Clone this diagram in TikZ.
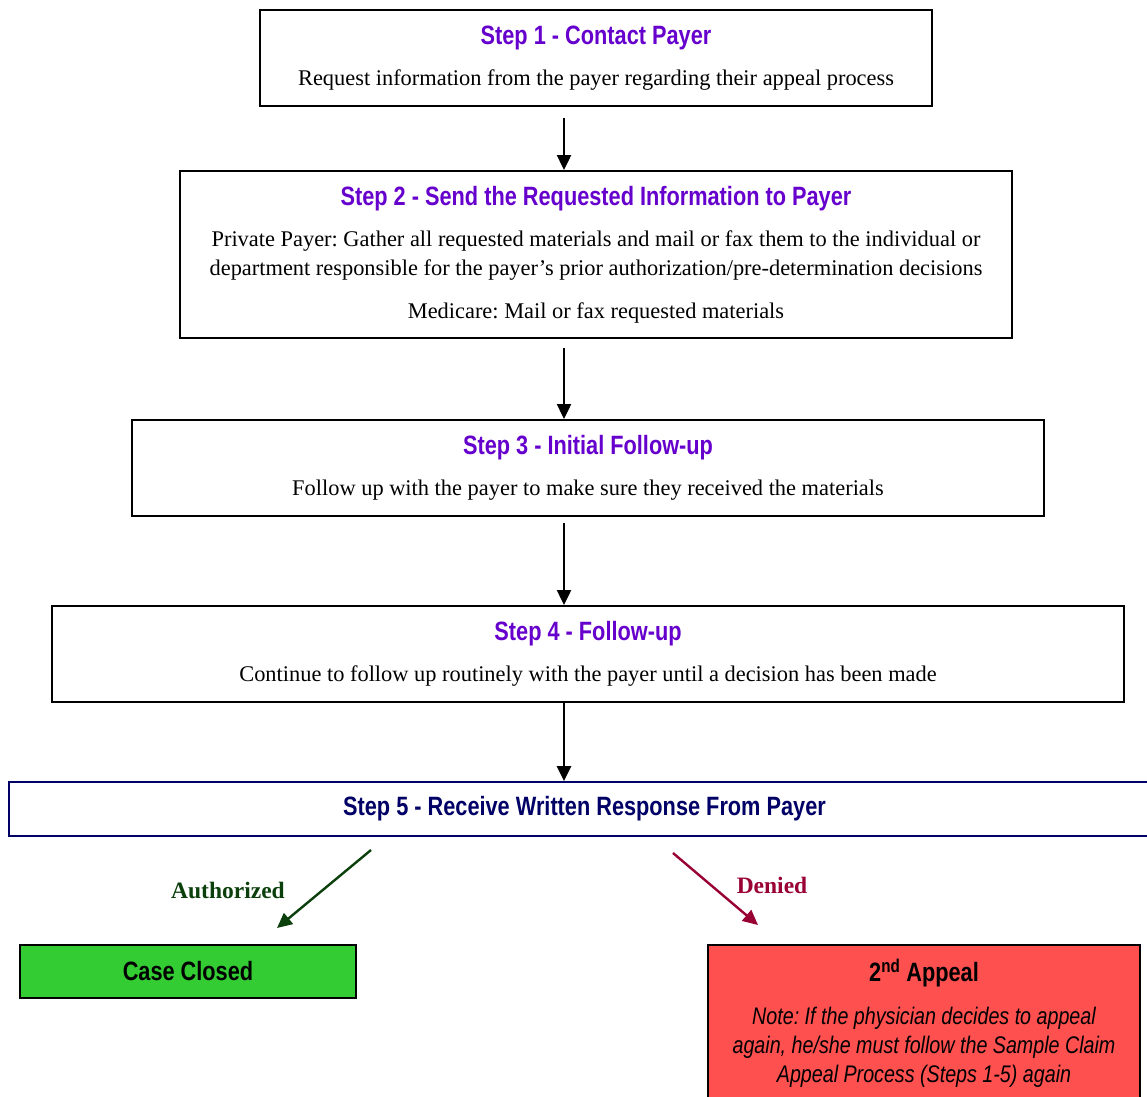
\documentclass[tikz,border=0pt]{standalone}
\usepackage{fontspec}
\setmainfont{Liberation Serif}
\newfontfamily\narrowfont[FakeStretch=0.82]{Liberation Sans}
\usepackage{xcolor}
\usetikzlibrary{arrows.meta}

\definecolor{steppurple}{HTML}{6600CC}
\definecolor{stepnavy}{HTML}{000066}
\definecolor{authgreen}{HTML}{0B3F0B}
\definecolor{deniedred}{HTML}{990033}
\definecolor{closedgreen}{HTML}{33CC33}
\definecolor{appealred}{HTML}{FF5050}

\newcommand{\steptitle}[2][steppurple]{{\narrowfont\upshape\bfseries\fontsize{26.5}{30}\selectfont\color{#1}#2}}

\tikzset{
  stepbox/.style={draw, rectangle, line width=2pt, align=center, inner sep=0pt,
    font=\frenchspacing\fontsize{22.4}{29}\selectfont},
  flow/.style={-{Triangle[length=15pt,width=14pt]}, line width=2.4pt},
  outcome/.style={font=\bfseries\fontsize{23.5}{28}\selectfont},
}

\begin{document}
\begin{tikzpicture}[x=1pt, y=-1pt]
    \useasboundingbox (0,0) rectangle (1147,1096);
    \clip (0,0) rectangle (1147,1096);

    \node[stepbox, minimum width=672pt, minimum height=96pt] (contact) at (596,58)
        {\steptitle{Step 1 - Contact Payer}\\[12pt]
         Request information from the payer regarding their appeal process};
    \node[stepbox, minimum width=832pt, minimum height=167pt] (send) at (596,254.5)
        {\steptitle{Step 2 - Send the Requested Information to Payer}\\[12pt]
         Private Payer: Gather all requested materials and mail or fax them to the individual or\\
         department responsible for the payer’s prior authorization/pre-determination decisions\\[14pt]
         Medicare: Mail or fax requested materials};
    \node[stepbox, minimum width=912pt, minimum height=96pt] (initial) at (588,468)
        {\steptitle{Step 3 - Initial Follow-up}\\[12pt]
         Follow up with the payer to make sure they received the materials};
    \node[stepbox, minimum width=1072pt, minimum height=96pt] (followup) at (588,654)
        {\steptitle{Step 4 - Follow-up}\\[12pt]
         Continue to follow up routinely with the payer until a decision has been made};
    \node[stepbox, draw=stepnavy, line width=1.8pt, minimum width=1151pt, minimum height=54pt] (response) at (584.5,809)
        {\steptitle[stepnavy]{Step 5 - Receive Written Response From Payer}};

    \node[stepbox, fill=closedgreen, minimum width=336pt, minimum height=53pt] (closed) at (188,971.5)
        {\steptitle[black]{Case Closed}};
    \node[stepbox, fill=appealred, minimum width=432pt, minimum height=156pt,
          font=\frenchspacing\narrowfont\itshape\fontsize{24}{29}\selectfont] (appeal) at (924,1023)
        {\steptitle[black]{2\textsuperscript{nd} Appeal}\\[14pt]
         Note: If the physician decides to appeal\\
         again, he/she must follow the Sample Claim\\
         Appeal Process (Steps 1-5) again};

    % main flow
    \coordinate (spine) at (564,0);
    \draw[flow, shorten <=11pt] (contact.south -| spine) -- (send.north -| spine);
    \draw[flow, shorten <=9pt] (send.south -| spine) -- (initial.north -| spine);
    \draw[flow, shorten <=6pt] (initial.south -| spine) -- (followup.north -| spine);
    \draw[flow] (followup.south -| spine) -- (response.north -| spine);

    % outcomes
    \coordinate (authtail) at (371,850);
    \coordinate (authtip) at (277,928);
    \coordinate (denytail) at (673,853);
    \coordinate (denytip) at (758,925);
    \draw[flow, draw=authgreen, fill=authgreen] (authtail) -- (authtip);
    \draw[flow, draw=deniedred, fill=deniedred] (denytail) -- (denytip);
    \node[outcome, text=authgreen] (authlabel) at (228,890) {Authorized};
    \node[outcome, text=deniedred] (deniedlabel) at (772,885) {Denied};
\end{tikzpicture}
\end{document}
